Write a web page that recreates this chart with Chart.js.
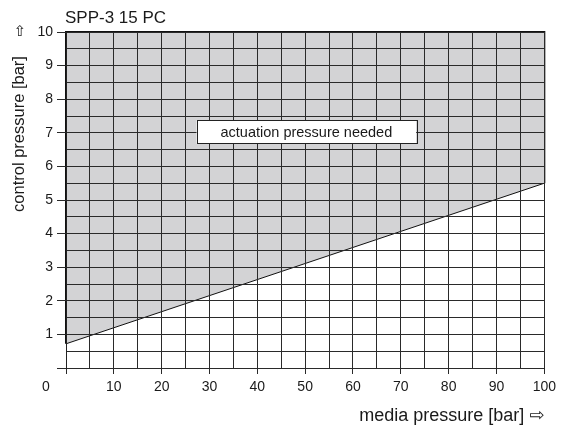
<!DOCTYPE html>
<html>
<head>
<meta charset="utf-8">
<script src="https://cdn.jsdelivr.net/npm/chart.js@4/dist/chart.umd.min.js"></script>
<style>
  html, body { margin: 0; padding: 0; background: #fff; }
  #wrap { width: 561px; height: 427px; }
</style>
</head>
<body>
<div id="wrap"><canvas id="chart" width="561" height="427"></canvas></div>
<script>
// boundary line: control pressure needed vs media pressure
const mediaPressure = [0, 100];
const controlPressure = [0.72, 5.5];

// outline of the shaded area (left edge, top, right edge)
const outlineX = [0, 0, 100, 100];
const outlineY = [0.72, 10, 10, 5.5];

// label box inside the shaded area (data coords)
const noteX = [27.3, 73.2];
const noteY = [6.68, 7.37];
const noteText = 'actuation pressure needed';

const chartTitle = 'SPP-3 15 PC';
const xTitle = 'media pressure [bar] \u21E8';
const yTitle = 'control pressure [bar]';

const FONT = '"Liberation Sans", Arial, "DejaVu Sans", sans-serif';
const INK = '#1a1a1a';
const GRID = '#2a2a2a';

function toPoints(xs, ys) {
  return xs.map((x, i) => ({ x: x, y: ys[i] }));
}

const textPlugin = {
  id: 'texts',
  afterDraw(chart) {
    const ctx = chart.ctx;
    const xs = chart.scales.x;
    const ys = chart.scales.y;
    const area = chart.chartArea;
    ctx.save();
    ctx.fillStyle = INK;

    // title
    ctx.font = '17px ' + FONT;
    ctx.textAlign = 'left';
    ctx.textBaseline = 'alphabetic';
    ctx.fillText(chartTitle, area.left - 1, 23);

    // x title, right aligned
    ctx.font = '18px ' + FONT;
    ctx.textAlign = 'right';
    ctx.fillText(xTitle, area.right, 421);

    // origin label
    ctx.font = '14px ' + FONT;
    ctx.textAlign = 'center';
    ctx.textBaseline = 'middle';
    ctx.fillText('0', 46, 387);

    // y title rotated
    ctx.save();
    ctx.translate(19, 134);
    ctx.rotate(-Math.PI / 2);
    ctx.font = '16.5px ' + FONT;
    ctx.textAlign = 'center';
    ctx.textBaseline = 'middle';
    ctx.fillText(yTitle, 0, 0);
    ctx.restore();

    // up arrow
    ctx.font = '15px ' + FONT;
    ctx.textAlign = 'center';
    ctx.textBaseline = 'middle';
    ctx.fillText('\u21E7', 20, 32);

    // annotation box
    const l = xs.getPixelForValue(noteX[0]);
    const r = xs.getPixelForValue(noteX[1]);
    const t = ys.getPixelForValue(noteY[1]);
    const b = ys.getPixelForValue(noteY[0]);
    ctx.fillStyle = '#fff';
    ctx.fillRect(l, t, r - l, b - t);
    ctx.strokeStyle = '#222';
    ctx.lineWidth = 1;
    ctx.strokeRect(Math.round(l) + 0.5, Math.round(t) + 0.5, Math.round(r - l), Math.round(b - t));
    ctx.fillStyle = INK;
    ctx.font = '14.5px ' + FONT;
    ctx.fillText(noteText, (l + r) / 2, (t + b) / 2 + 1);

    ctx.restore();
  }
};

new Chart(document.getElementById('chart'), {
  type: 'line',
  data: {
    datasets: [
      {
        data: toPoints(mediaPressure, controlPressure),
        borderColor: '#111',
        borderWidth: 1,
        backgroundColor: '#d3d3d5',
        fill: 'end',
        pointRadius: 0,
        tension: 0
      },
      {
        data: toPoints(outlineX, outlineY),
        borderColor: '#111',
        borderWidth: 2,
        fill: false,
        pointRadius: 0,
        clip: 3
      }
    ]
  },
  options: {
    responsive: false,
    animation: false,
    devicePixelRatio: 1,
    layout: {
      padding: { left: 0, top: 32, right: 14, bottom: 0 }
    },
    scales: {
      x: {
        type: 'linear',
        min: 0,
        max: 100,
        afterFit: s => { s.height = 59; },
        border: { color: '#222', width: 1, z: 1 },
        grid: {
          z: 1,
          color: GRID,
          lineWidth: 1,
          tickLength: 6,
          tickColor: c => (c.tick && c.tick.value % 10 === 0) ? GRID : 'rgba(0,0,0,0)'
        },
        ticks: {
          stepSize: 5,
          autoSkip: false,
          maxRotation: 0,
          padding: 5,
          color: INK,
          font: { family: FONT, size: 14 },
          callback: v => (v % 10 === 0 && v !== 0) ? String(v) : ''
        }
      },
      y: {
        type: 'linear',
        min: 0,
        max: 10,
        afterFit: s => { s.width = 66; },
        border: { color: '#222', width: 1, z: 1 },
        grid: {
          z: 1,
          color: GRID,
          lineWidth: 1,
          tickLength: 9,
          tickColor: c => (c.tick && Number.isInteger(c.tick.value)) ? GRID : 'rgba(0,0,0,0)'
        },
        ticks: {
          stepSize: 0.5,
          autoSkip: false,
          padding: 4,
          color: INK,
          font: { family: FONT, size: 14 },
          callback: v => (Number.isInteger(v) && v !== 0) ? String(v) : ''
        }
      }
    },
    plugins: {
      legend: { display: false },
      tooltip: { enabled: false },
      title: { display: false }
    }
  },
  plugins: [textPlugin]
});
</script>
</body>
</html>
